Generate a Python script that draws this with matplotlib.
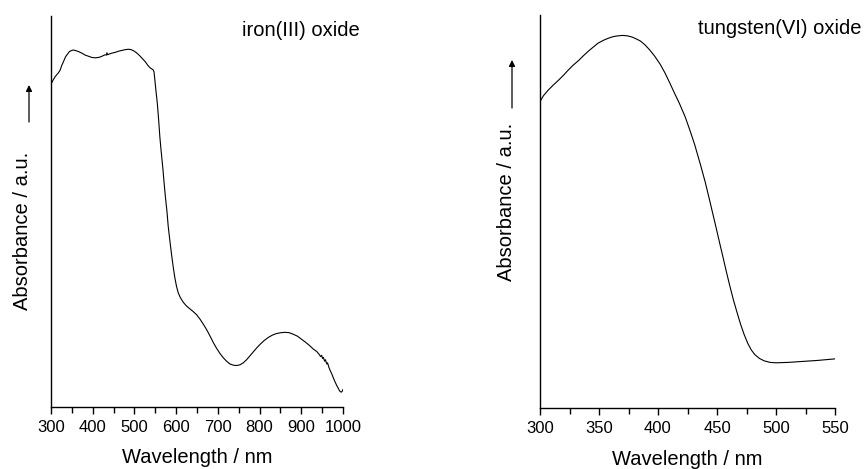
import matplotlib
matplotlib.use("Agg")
import matplotlib.pyplot as plt
from matplotlib.patches import FancyArrowPatch

plt.rcParams['font.family'] = ['Liberation Sans', 'DejaVu Sans']

# iron(III) oxide spectrum (arbitrary units, 0 = axis bottom, 1 = axis top)
fe_wavelength = [300, 305, 310, 314, 318, 322, 326, 331, 335, 340,
                 344, 348, 353, 358, 366, 374, 382, 390, 398, 406,
                 414, 420, 426, 430, 433, 434, 436, 440, 446, 454,
                 462, 470, 478, 486, 492, 498, 505, 513, 520, 526,
                 532, 537, 541, 545, 547, 549, 552, 555, 558, 561,
                 564, 568, 571, 574, 578, 581, 585, 589, 593, 597,
                 601, 605, 610, 617, 625, 633, 641, 649, 657, 665,
                 673, 681, 689, 697, 705, 713, 721, 729, 737, 745,
                 753, 761, 769, 777, 785, 793, 801, 811, 821, 831,
                 841, 851, 861, 871, 881, 891, 901, 911, 921, 929,
                 937, 941, 944, 946, 949, 951, 953, 956, 958, 961,
                 963, 966, 969, 973, 977, 981, 985, 989, 992, 994,
                 996, 998, 1000]
fe_absorb = [0.826, 0.836, 0.845, 0.850, 0.855, 0.862, 0.874, 0.886, 0.896, 0.903,
             0.909, 0.911, 0.913, 0.912, 0.909, 0.905, 0.900, 0.897, 0.894, 0.893,
             0.894, 0.896, 0.899, 0.901, 0.900, 0.906, 0.901, 0.903, 0.905, 0.907,
             0.910, 0.912, 0.914, 0.915, 0.914, 0.911, 0.906, 0.898, 0.890, 0.883,
             0.874, 0.868, 0.865, 0.862, 0.857, 0.836, 0.805, 0.775, 0.735, 0.690,
             0.655, 0.612, 0.575, 0.540, 0.500, 0.462, 0.425, 0.390, 0.358, 0.330,
             0.308, 0.292, 0.280, 0.268, 0.258, 0.251, 0.244, 0.236, 0.225, 0.212,
             0.198, 0.182, 0.165, 0.150, 0.137, 0.126, 0.117, 0.110, 0.107, 0.106,
             0.108, 0.113, 0.121, 0.131, 0.141, 0.151, 0.160, 0.170, 0.178, 0.184,
             0.188, 0.190, 0.191, 0.190, 0.186, 0.181, 0.173, 0.165, 0.156, 0.148,
             0.142, 0.137, 0.133, 0.129, 0.132, 0.124, 0.127, 0.117, 0.121, 0.110,
             0.113, 0.102, 0.094, 0.085, 0.074, 0.064, 0.055, 0.047, 0.041, 0.039,
             0.038, 0.040, 0.045]

# tungsten(VI) oxide spectrum
w_wavelength = [300, 303, 307, 311, 316, 320, 324, 328, 333, 337,
                341, 345, 349, 354, 358, 362, 366, 370, 374, 378,
                381, 385, 389, 393, 397, 402, 406, 410, 414, 418,
                423, 427, 431, 436, 440, 443, 446, 449, 452, 455,
                458, 461, 464, 467, 470, 473, 476, 479, 482, 486,
                490, 495, 500, 510, 520, 535, 550]
w_absorb = [0.780, 0.795, 0.809, 0.821, 0.835, 0.847, 0.860, 0.872, 0.885, 0.897,
            0.908, 0.918, 0.928, 0.936, 0.941, 0.945, 0.947, 0.948, 0.947, 0.944,
            0.940, 0.934, 0.924, 0.911, 0.896, 0.874, 0.852, 0.827, 0.801, 0.776,
            0.741, 0.707, 0.671, 0.619, 0.575, 0.538, 0.500, 0.462, 0.423, 0.385,
            0.346, 0.309, 0.274, 0.243, 0.213, 0.187, 0.165, 0.148, 0.136, 0.126,
            0.120, 0.116, 0.115, 0.116, 0.118, 0.121, 0.125]

fe_ticks = [300, 400, 500, 600, 700, 800, 900, 1000]
w_ticks = [300, 350, 400, 450, 500, 550]

fig = plt.figure(figsize=(8.65, 4.69), dpi=100)
ax1 = fig.add_axes([51/865, 62/469, 292/865, 391/469])
ax2 = fig.add_axes([540/865, 61/469, 295/865, 393/469])


def style(ax, xlim, ticks, minor_step, xpad):
    ax.set_xlim(*xlim)
    ax.set_ylim(0, 1)
    ax.spines['top'].set_visible(False)
    ax.spines['right'].set_visible(False)
    for s in ('left', 'bottom'):
        ax.spines[s].set_linewidth(1.0)
    ax.set_yticks([])
    ax.set_xticks(ticks)
    ax.set_xticks([t + minor_step for t in ticks[:-1]], minor=True)
    ax.tick_params(axis='x', which='major', direction='out', length=5, width=1.0,
                   labelsize=12, pad=4)
    ax.tick_params(axis='x', which='minor', direction='out', length=4, width=1.0)
    ax.set_xlabel('Wavelength / nm', fontsize=14.5, labelpad=xpad)
    ax.set_ylabel('Absorbance / a.u.', fontsize=14.5)


ax1.plot(fe_wavelength, fe_absorb, color='black', lw=0.8)
style(ax1, (300, 1000), fe_ticks, 50, 9.5)

ax2.plot(w_wavelength, w_absorb, color='black', lw=0.8)
style(ax2, (300, 550), w_ticks, 25, 10.5)

ax1.yaxis.set_label_coords(-19/292, (407 - 231) / 391)
ax2.yaxis.set_label_coords(-24.5/295, (408 - 202) / 393)

fig.text(360/865, 1 - 31/469, 'iron(III) oxide', fontsize=14.5, ha='right', va='center')
fig.text(862/865, 1 - 28/469, 'tungsten(VI) oxide', fontsize=14.5, ha='right', va='center')

arrowprops = dict(arrowstyle='-|>', color='black', lw=0.9, mutation_scale=9,
                  shrinkA=0, shrinkB=0)
fig.add_artist(FancyArrowPatch((29/865, 1 - 122/469), (29/865, 1 - 85/469),
               transform=fig.transFigure, **arrowprops))
fig.add_artist(FancyArrowPatch((512/865, 1 - 108/469), (512/865, 1 - 60/469),
               transform=fig.transFigure, **arrowprops))

fig.savefig('out.png', dpi=100)
